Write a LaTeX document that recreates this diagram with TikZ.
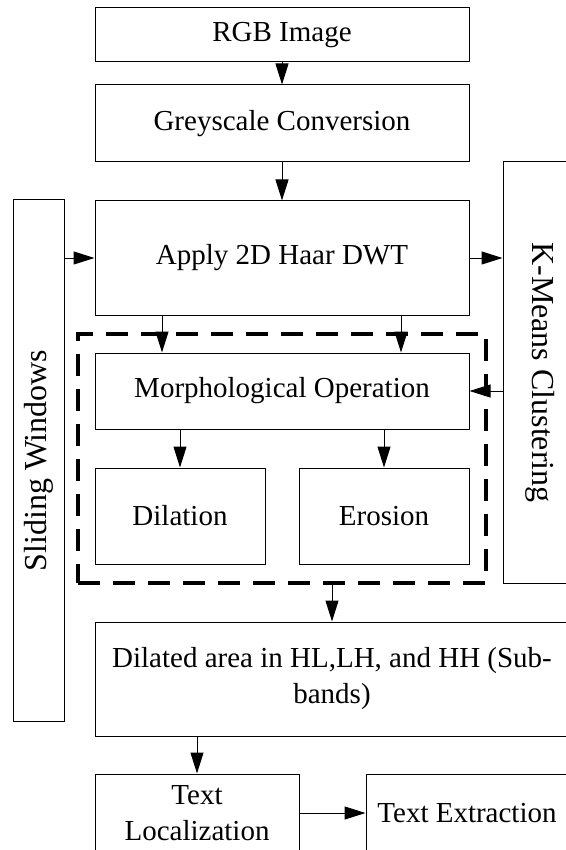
\documentclass[tikz,border=0pt]{standalone}
\usepackage{fontspec}
\setmainfont{Liberation Serif}
\usetikzlibrary{arrows.meta}

\begin{document}
\begin{tikzpicture}[x=0.5pt, y=-0.5pt, line width=0.5pt,
    box/.style={draw, rectangle, inner sep=0pt, align=center,
                font=\fontsize{14.5}{18}\selectfont},
    sidebox/.style={box, font=\fontsize{16}{19}\selectfont},
    groupbox/.style={draw, rectangle, line width=1.6pt, dash pattern=on 11pt off 6.5pt},
    >={Triangle[length=10.5pt, width=6.5pt]}]
    \useasboundingbox (0,0) rectangle (566,850);
    \node[box, minimum width=187pt, minimum height=27pt]   (rgb)   at (282,35)    {RGB Image};
    \node[box, minimum width=187pt, minimum height=38.5pt] (grey)  at (282,123.5) {Greyscale Conversion};
    \node[box, minimum width=187pt, minimum height=57pt]   (dwt)   at (282,258)   {Apply 2D Haar DWT};
    \node[groupbox, minimum width=204pt, minimum height=124.5pt] (group) at (282,458.5) {};
    \node[box, minimum width=187pt, minimum height=38pt]   (morph) at (282,391)   {Morphological Operation};
    \node[box, minimum width=85pt, minimum height=48pt]    (dil)   at (180,516)   {Dilation};
    \node[box, minimum width=85pt, minimum height=48pt]    (ero)   at (384,516)   {Erosion};
    \node[sidebox, rotate=90, minimum width=260.5pt, minimum height=25.5pt] (sw) at (38.5,460.5) {Sliding Windows};
    \node[sidebox, rotate=-90, minimum width=210.5pt, minimum height=37pt]  (km) at (540,372.5) {K-Means Clustering};
    \node[box, minimum width=237pt, minimum height=57pt]   (dilated) at (332,679) {Dilated area in HL,LH, and HH (Sub-\\bands)};
    \node[box, minimum width=102pt, minimum height=39pt]   (textloc) at (197,813) {Text\\Localization};
    \node[box, minimum width=101pt, minimum height=39pt]   (textext) at (467,813) {Text Extraction};

    \draw[->] (rgb) -- (grey);
    \draw[->] (grey) -- (dwt);
    \draw[->] (sw.south |- dwt.west) -- (dwt.west);
    \draw[->] (dwt.east) -- (km.south |- dwt.east);
    \draw[->] ([xshift=-60pt]dwt.south) -- ([xshift=-60pt]morph.north);
    \draw[->] ([xshift=59.5pt]dwt.south) -- ([xshift=59.5pt]morph.north);
    \draw[->] (km.south |- morph.east) -- (morph.east);
    \draw[->] (morph.south -| dil.north) -- (dil.north);
    \draw[->] (morph.south -| ero.north) -- (ero.north);
    \draw[->] (group.south -| dilated.north) -- (dilated.north);
    \draw[->] (dilated.south -| textloc.north) -- (textloc.north);
    \draw[->] (textloc) -- (textext);
\end{tikzpicture}
\end{document}
